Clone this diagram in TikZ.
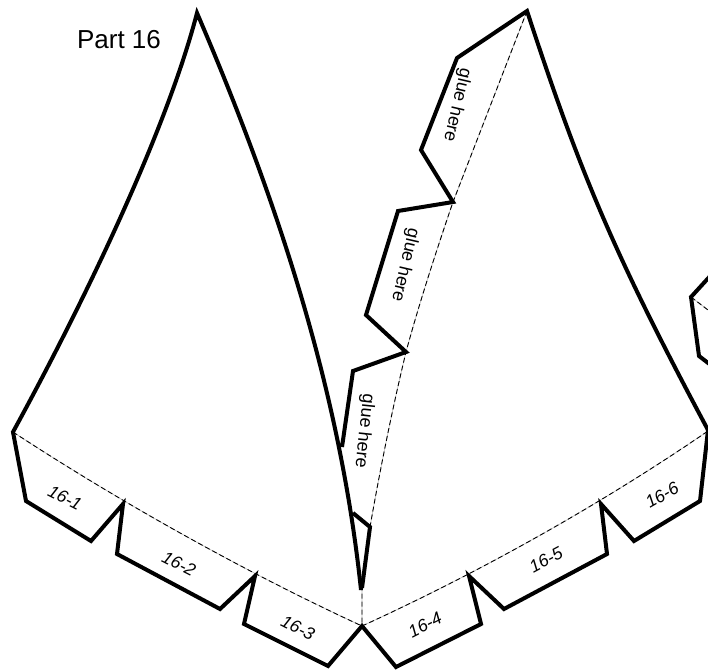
\documentclass[tikz,border=0pt]{standalone}
\usepackage{fontspec}
\setmainfont{Liberation Sans}
\tikzset{
  cutline/.style={line width=4pt,line join=miter,miter limit=10},
  foldline/.style={line width=0.9pt,dash pattern=on 5pt off 3pt,preaction={draw,gray!55,line width=0.6pt,solid}},
  gluelabel/.style={font=\fontsize{18}{20}\selectfont,inner sep=0pt},
  tablabel/.style={font=\itshape\fontsize{17.5}{20}\selectfont,inner sep=0pt}
}
\begin{document}
\begin{tikzpicture}[x=1pt,y=-1pt]
\useasboundingbox (0,0) rectangle (708,671);
\clip (0,0) rectangle (708,671);
% fold lines
\draw[foldline] (13,432) .. controls (120,502) and (245,572) .. (362,626);
\draw[foldline] (362,626) .. controls (480,572) and (600,505) .. (708,431);
\draw[foldline] (527,11) -- (453,202) .. controls (440,240) and (420,300) .. (406,352) .. controls (392,410) and (380,470) .. (370,527) -- (362,588) -- (362,626);
\draw[foldline] (691,297) -- (708,310);
% cut outline: gores, bottom tabs, glue tabs
\draw[cutline] (361,590) .. controls (341,400) and (283,213) .. (197,13)
  .. controls (166,132) and (84,302) .. (13,432)
  -- (26,501) -- (91,541) -- (123,504) -- (117,554) -- (220,609) -- (255,576) -- (244,624) -- (328,666) -- (362,626)
  -- (396,667) -- (481,624) -- (469,576) -- (504,609) -- (607,554) -- (601,504) -- (634,541) -- (700,501) -- (708,430)
  .. controls (610,247) and (578,166) .. (527,11)
  -- (457,58) -- (421,150) -- (453,202) -- (398,211) -- (366,315) -- (406,352) -- (353,371) -- (342,447);
\draw[cutline] (353,513) -- (370,527) -- (362,588);
% partial shape at the right edge
\draw[cutline] (712,274) -- (691,297) -- (699,356) -- (712,366);
% labels
\node[font=\fontsize{26}{30}\selectfont,inner sep=0pt] (title) at (119,40) {Part 16};
\node[gluelabel,rotate=-103] (g1) at (457,105) {glue here};
\node[gluelabel,rotate=-103] (g2) at (405,265) {glue here};
\node[gluelabel,rotate=-96] (g3) at (364,431) {glue here};
\node[tablabel,rotate=-27] (t1) at (65,498) {16-1};
\node[tablabel,rotate=-27] (t2) at (179,564) {16-2};
\node[tablabel,rotate=-27] (t3) at (298,628) {16-3};
\node[tablabel,rotate=27] (t4) at (425,625) {16-4};
\node[tablabel,rotate=28] (t5) at (546,560) {16-5};
\node[tablabel,rotate=30] (t6) at (662,495) {16-6};
\end{tikzpicture}
\end{document}
